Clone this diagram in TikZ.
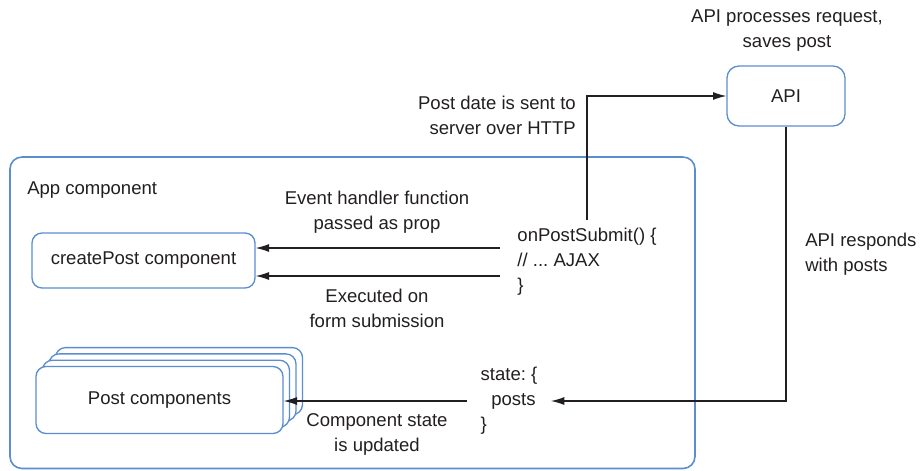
\documentclass[tikz,border=0pt]{standalone}
\usepackage{fontspec}
\setmainfont{Liberation Sans}
\usetikzlibrary{arrows.meta}
\definecolor{compblue}{RGB}{91,141,209}
\definecolor{inkgrey}{RGB}{35,31,32}
\frenchspacing

\begin{document}
\begin{tikzpicture}[
    x=0.75pt, y=-0.75pt,
    font=\fontsize{13.9}{18.8}\selectfont,
    box/.style={rectangle, draw=compblue, line width=1pt, rounded corners=7.5pt, fill=white, text=inkgrey, align=center},
    lbl/.style={text=inkgrey, inner sep=0pt, align=center},
    arrow/.style={-{Latex[length=10pt,width=6pt]}, line width=0.9pt, draw=inkgrey}
]
    \useasboundingbox (0,0) rectangle (921,471);

    % App component
    \node[box, line width=1.2pt, rounded corners=9pt, minimum width=513.75pt, minimum height=233.6pt] (app) at (352.5,312.75) {};
    \node[lbl, anchor=west] (applbl) at (27,190) {App component};
    \node[box, minimum width=167.25pt, minimum height=41.25pt] (create) at (143.5,260.5) {createPost component};

    % Post components (stacked)
    \foreach \k in {3,2,1}
        \node[box, minimum width=185.25pt, minimum height=50.25pt] (post\k) at ({159.5+6.5*\k},{400-6.3*\k}) {};
    \node[box, minimum width=185.25pt, minimum height=50.25pt] (posts) at (159.5,400) {Post components};

    % Handler and state
    \node[lbl, align=left, inner xsep=12.75pt, inner ysep=6pt] (submit) at (587,262) {onPostSubmit() \{\\// ... AJAX\\\}};
    \node[lbl, align=left, inner xsep=10pt, inner ysep=4pt] (state) at (509,401) {state: \{\\\hspace*{8pt}posts\\\}};

    % API
    \node[box, rounded corners=9pt, minimum width=88.5pt, minimum height=45pt] (api) at (786,96) {API};

    % Labels
    \node[lbl] (apiproc) at (787,31) {API processes request,\\saves post};
    \node[lbl, align=right, anchor=east] (sentlbl) at (576,115) {Post date is sent to\\server over HTTP};
    \node[lbl, align=left, anchor=west] (resplbl) at (805,254) {API responds\\with posts};
    \node[lbl] (passlbl) at (377,212) {Event handler function\\passed as prop};
    \node[lbl] (execlbl) at (377,308) {Executed on\\form submission};
    \node[lbl] (updlbl) at (377,434) {Component state\\is updated};

    % Connectors
    \draw[arrow] (submit.north) |- (api.west);
    \draw[arrow] ([yshift=10.5pt]submit.west) -- ([yshift=10.5pt]submit.west -| create.east);
    \draw[arrow] ([yshift=-10.5pt]submit.west) -- ([yshift=-10.5pt]submit.west -| create.east);
    \draw[arrow] (api.south) |- (state.east);
    \draw[arrow] (state.west) -- (state.west -| posts.east);
\end{tikzpicture}
\end{document}
